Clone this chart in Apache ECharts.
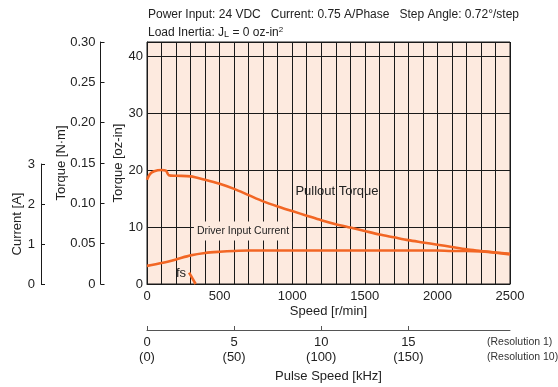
<!DOCTYPE html>
<html>
<head>
<meta charset="utf-8">
<script src="https://cdn.jsdelivr.net/npm/echarts@6/dist/echarts.min.js"></script>
<style>
html,body{margin:0;padding:0;background:#fff;}
#c{width:558px;height:387px;}
</style>
</head>
<body>
<div id="c"></div>
<script>
// ---- data ----
const speedTicks = [0, 500, 1000, 1500, 2000, 2500];          // r/min
const ozinTicks = [0, 10, 20, 30, 40];                           // oz-in
const currentTicks = [0, 1, 2, 3];                               // A
const pulseTicks = [0, 5, 10, 15];                               // kHz (Resolution 1)

const pulloutSpeed = [0, 20, 50, 100, 130, 150, 200, 300, 400, 500, 600, 700, 800, 900, 1000, 1100, 1200, 1300, 1400, 1500, 1600, 1700, 1800, 1900, 2000, 2100, 2200, 2300, 2400, 2500];
const pulloutTorque = [18.3, 19.3, 19.8, 20.0, 19.9, 19.1, 19.0, 18.9, 18.3, 17.6, 16.7, 15.6, 14.5, 13.6, 12.8, 12.0, 11.2, 10.5, 9.9, 9.3, 8.7, 8.2, 7.7, 7.3, 6.9, 6.5, 6.1, 5.8, 5.5, 5.2];

const currentSpeed = [0, 100, 200, 300, 400, 500, 600, 700, 800, 1000, 1200, 1400, 1600, 1800, 2000, 2100, 2200, 2300, 2400, 2500];
const currentValue = [0.45, 0.52, 0.61, 0.71, 0.77, 0.80, 0.82, 0.83, 0.83, 0.83, 0.83, 0.83, 0.83, 0.83, 0.83, 0.82, 0.82, 0.81, 0.78, 0.75];

const fsSpeed = [290, 335];
const fsTorque = [2.0, 0];

// ---- style ----
const FONT = "'Liberation Sans', Arial, sans-serif";
const TXT = '#222';
const LINE = '#1a1a1a';
const ORANGE = '#f26624';
const PEACH = '#fdeadf';
const FS = 13;
const NM_PER_OZIN = 0.00706155;
const ozMax = 0.30 / NM_PER_OZIN;
const pulseMax = 2500 / 60 * 500 / 1000; // kHz at 2500 r/min, 0.72°/step

const zip = (a, b) => a.map((v, i) => [v, b[i]]);
const nameStyle = {fontFamily: FONT, fontSize: FS, color: TXT};

const chart = echarts.init(document.getElementById('c'), null, {renderer: 'canvas'});
chart.setOption({
  animation: false,
  textStyle: {fontFamily: FONT},
  title: {
    left: 148, top: 6, padding: 0, itemGap: 0,
    text: 'Power Input: 24 VDC   Current: 0.75 A/Phase   Step Angle: 0.72°/step\nLoad Inertia: J{s|L} = 0 oz-in{p|2}',
    textStyle: {
      fontFamily: FONT, fontSize: 12, fontWeight: 'normal', color: TXT, lineHeight: 18,
      rich: {
        s: {fontFamily: FONT, fontSize: 9, color: TXT, verticalAlign: 'middle', padding: [3, 0, 0, 0]},
        p: {fontFamily: FONT, fontSize: 8, color: TXT, verticalAlign: 'top', padding: [2, 0, 0, 0]}
      }
    }
  },
  grid: [
    {left: 147, top: 42, width: 363, height: 242, show: true, backgroundColor: PEACH, borderColor: LINE, borderWidth: 1},
    {left: 147, top: 329, width: 363, height: 1, show: false},
    {left: 41, top: 164, width: 1, height: 120, show: false}
  ],
  xAxis: [
    {
      type: 'value', gridIndex: 0, min: 0, max: 2500, interval: 100,
      name: 'Speed [r/min]', nameLocation: 'middle', nameGap: 21, nameMoveOverlap: false,
      nameTextStyle: nameStyle,
      axisLine: {show: true, lineStyle: {color: LINE, width: 1}},
      axisTick: {show: false},
      axisLabel: {customValues: speedTicks, fontFamily: FONT, fontSize: FS, color: TXT, margin: 6,
        formatter: v => String(v)},
      splitLine: {show: true, lineStyle: {color: LINE, width: 1}}
    },
    {
      type: 'value', gridIndex: 1, min: 0, max: pulseMax, interval: 5,
      name: 'Pulse Speed [kHz]', nameLocation: 'middle', nameGap: 40, nameMoveOverlap: false,
      nameTextStyle: nameStyle,
      axisLine: {show: true, lineStyle: {color: '#555', width: 1}},
      axisTick: {show: true, inside: true, length: 4, customValues: pulseTicks, lineStyle: {color: '#555'}},
      axisLabel: {customValues: pulseTicks, fontFamily: FONT, fontSize: FS, color: TXT, margin: 5, lineHeight: 15,
        formatter: v => v + '\n(' + (v * 10) + ')'},
      splitLine: {show: false}
    },
    {type: 'value', gridIndex: 2, show: false, min: 0, max: 1}
  ],
  yAxis: [
    {
      type: 'value', gridIndex: 0, position: 'left', min: 0, max: ozMax, interval: 10,
      name: 'Torque [oz-in]', nameLocation: 'middle', nameGap: 22, nameMoveOverlap: false,
      nameTextStyle: nameStyle,
      axisLine: {show: true, lineStyle: {color: LINE, width: 1}},
      axisTick: {show: false},
      axisLabel: {customValues: ozinTicks, fontFamily: FONT, fontSize: FS, color: TXT, margin: 4},
      splitLine: {show: true, lineStyle: {color: LINE, width: 1}}
    },
    {
      type: 'value', gridIndex: 0, position: 'left', offset: 46.5, min: 0, max: 0.30, interval: 0.05,
      name: 'Torque [N·m]', nameLocation: 'middle', nameGap: 33, nameMoveOverlap: false,
      nameTextStyle: nameStyle,
      axisLine: {show: true, lineStyle: {color: LINE, width: 1}},
      axisTick: {show: true, inside: true, length: 4, lineStyle: {color: LINE}},
      axisLabel: {fontFamily: FONT, fontSize: FS, color: TXT, margin: 5,
        formatter: v => v === 0 ? '0' : v.toFixed(2)},
      splitLine: {show: false}
    },
    {type: 'value', gridIndex: 0, position: 'right', show: false, min: 0, max: 6},
    {type: 'value', gridIndex: 1, show: false, min: 0, max: 1},
    {
      type: 'value', gridIndex: 2, position: 'left', min: 0, max: 3, interval: 1,
      name: 'Current [A]', nameLocation: 'middle', nameGap: 17, nameMoveOverlap: false,
      nameTextStyle: nameStyle,
      axisLine: {show: true, lineStyle: {color: LINE, width: 1}},
      axisTick: {show: true, inside: true, length: 4, lineStyle: {color: LINE}},
      axisLabel: {customValues: currentTicks, fontFamily: FONT, fontSize: FS, color: TXT, margin: 6},
      splitLine: {show: false}
    }
  ],
  series: [
    {
      name: 'Pullout Torque', type: 'line', xAxisIndex: 0, yAxisIndex: 0,
      data: zip(pulloutSpeed, pulloutTorque), smooth: 0.3, showSymbol: false,
      lineStyle: {color: ORANGE, width: 2.6}, z: 5
    },
    {
      name: 'Driver Input Current', type: 'line', xAxisIndex: 0, yAxisIndex: 2,
      data: zip(currentSpeed, currentValue), smooth: 0.3, showSymbol: false,
      lineStyle: {color: ORANGE, width: 2.6}, z: 5
    },
    {
      name: 'fs', type: 'line', xAxisIndex: 0, yAxisIndex: 0,
      data: zip(fsSpeed, fsTorque), showSymbol: false,
      lineStyle: {color: ORANGE, width: 2.6}, z: 5
    }
  ],
  graphic: [
    {type: 'text', x: 337, y: 191, z: 10,
      style: {text: 'Pullout Torque', fontFamily: FONT, fontSize: FS, fill: TXT, align: 'center', verticalAlign: 'middle'}},
    {type: 'text', x: 243, y: 231, z: 10,
      style: {text: 'Driver Input Current', fontFamily: FONT, fontSize: 10.5, fill: TXT, align: 'center', verticalAlign: 'middle',
        backgroundColor: PEACH, padding: [4, 3, 4, 3]}},
    {type: 'text', x: 181, y: 273, z: 10,
      style: {text: 'fs', fontFamily: FONT, fontSize: FS, fill: TXT, align: 'center', verticalAlign: 'middle'}},
    {type: 'text', x: 487, y: 342, z: 10,
      style: {text: '(Resolution 1)', fontFamily: FONT, fontSize: 10.5, fill: '#333', verticalAlign: 'middle'}},
    {type: 'text', x: 487, y: 357, z: 10,
      style: {text: '(Resolution 10)', fontFamily: FONT, fontSize: 10.5, fill: '#333', verticalAlign: 'middle'}}
  ]
});
</script>
</body>
</html>
